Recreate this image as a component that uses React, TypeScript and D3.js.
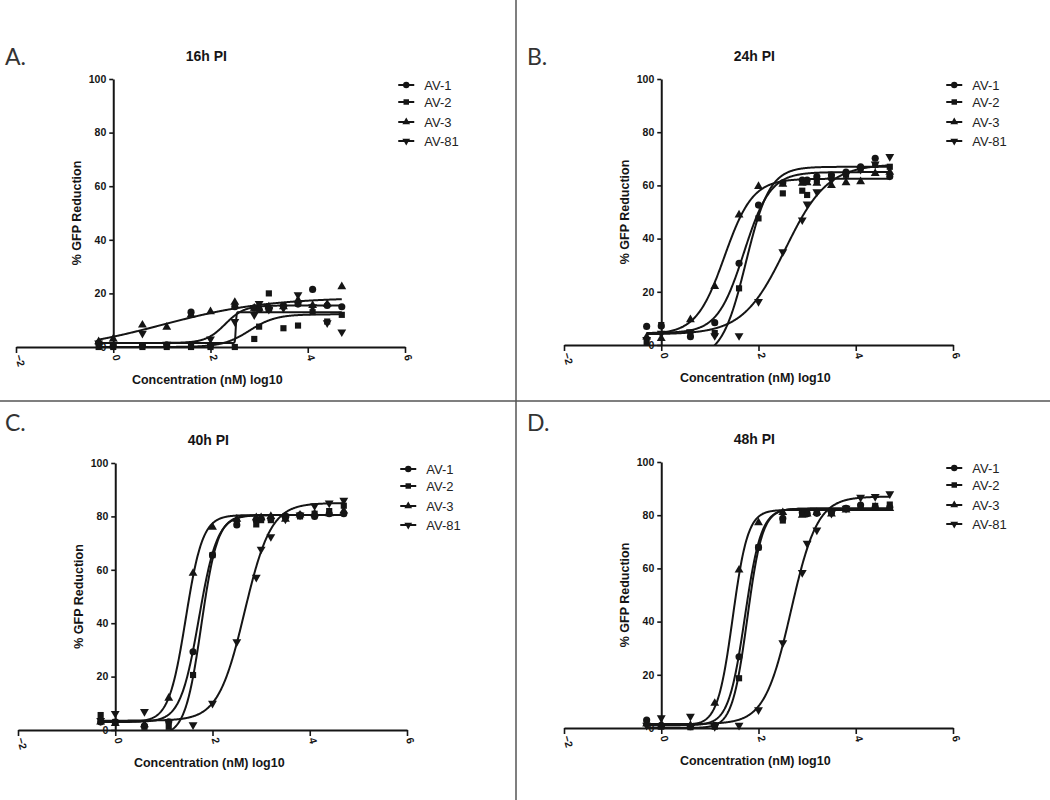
import { useEffect, useRef } from 'react';
import * as d3 from 'd3';

// ---- data ----
const seriesNames = ['AV-1', 'AV-2', 'AV-3', 'AV-81'];
const concLog10 = [-0.3, 0, 0.6, 1.1, 1.6, 2.0, 2.5, 2.9, 3.0, 3.2, 3.5, 3.8, 4.1, 4.4, 4.7];
const xTicks = [-2, 0, 2, 4, 6];
const yTicks = [0, 20, 40, 60, 80, 100];
const panelLetters = ['A.', 'B.', 'C.', 'D.'];
const panelTitles = ['16h PI', '24h PI', '40h PI', '48h PI'];

// % GFP reduction, one row per series (AV-1, AV-2, AV-3, AV-81)
const gfp16h = [
  [1.5, 0.5, 0.5, 0.8, 13, 0.5, 15, 14.5, 14, 14, 15.5, 16, 21.5, 15.5, 15],
  [0, 0, 0, 0, 0, 0, 0, 3, 7.6, 20, 7, 8, 13, 9.5, 12],
  [2, 3, 8.2, 7.4, 12, 13.2, 16.7, 14.5, 14.5, 15, 15, 17.5, 15.5, 16, 22.5],
  [1.5, 1, 5.1, 1, 1, 3, 9.5, 12, 16.2, 14, 14.5, 19.5, 15, 9, 5.6],
];
const gfp24h = [
  [7, 7.1, 3.1, 8.4, 30.7, 52.6, 61, 62, 62, 63.3, 63.9, 65, 67, 70.2, 63.3],
  [1, 7.5, 4, 4.5, 21.3, 47.6, 57, 58, 56.4, 62, 63, 64, 66, 67.7, 67],
  [3, 2.5, 9.5, 22, 48.9, 59.6, 60.5, 60.8, 61, 60.8, 60, 61, 61.4, 64.5, 65],
  [2, 4.4, 5, 3.5, 3.5, 16.3, 35, 47, 53, 57.6, 62, 64, 66, 68, 70.8],
];
const gfp40h = [
  [3, 3, 1.5, 3.1, 29.3, 65.5, 76.8, 78.6, 79, 79, 80, 80.5, 80, 81, 81],
  [5.6, 3, 1.2, 1.2, 20.6, 65.5, 78, 77, 78.6, 78.6, 80, 80, 81, 82, 84],
  [3, 2.5, 2, 11.9, 58.7, 76, 79, 79.5, 79.5, 80, 79, 80.5, 81, 81, 82],
  [3.5, 6.2, 6.9, 3, 1.9, 10, 33, 57.2, 67.7, 72.4, 79, 80.5, 84, 85, 86],
];
const gfp48h = [
  [3, 1, 0.5, 1, 26.8, 67.9, 78.8, 81, 80.5, 80.7, 81, 82.6, 83.8, 83, 83],
  [2, 0.5, 0.3, 0.5, 18.7, 67.9, 78, 80.5, 81, 81, 81.5, 82.5, 83, 83.5, 84],
  [1.5, 1, 1, 9.3, 59.4, 77.2, 81, 80, 80.5, 81, 80.5, 82, 82.5, 83, 82.5],
  [1, 3.8, 4.4, 0.5, 1, 6.8, 32, 58.4, 69.4, 74.4, 80.7, 82.6, 86.7, 87, 88],
];

// fitted dose-response parameters [bottom, top, logEC50, hill]
const fit16h = [[1.5, 13, 2.52, 60], [0, 12.2, 2.8, 1.6], [-2, 18.5, 1.0, 0.4], [1.5, 15.5, 2.3, 2.2]];
const fit24h = [[4.5, 65, 1.7, 1.6], [-5, 67, 1.74, 1.77], [4, 62.5, 1.3, 1.5], [4, 68, 2.55, 1.0]];
const fit40h = [[3, 80.5, 1.72, 2.3], [-2, 80.5, 1.77, 2.6], [3, 80.5, 1.45, 2.5], [3.5, 85, 2.66, 1.6]];
const fit48h = [[1, 82.5, 1.72, 2.6], [0, 82.5, 1.77, 2.8], [1, 82, 1.47, 2.8], [1.5, 87, 2.67, 1.6]];

const panelValues = [gfp16h, gfp24h, gfp40h, gfp48h];
const panelFits = [fit16h, fit24h, fit40h, fit48h];

// ---- layout ----
const W = 1050;
const H = 800;
const frames = [
  { xLeft: 16, xRight: 405, yTop: 79, yBottom: 347, lx: 5, ly: 65 },
  { xLeft: 564, xRight: 953, yTop: 79, yBottom: 345, lx: 527, ly: 65 },
  { xLeft: 18, xRight: 407, yTop: 463, yBottom: 730, lx: 5, ly: 431 },
  { xLeft: 564, xRight: 953, yTop: 462, yBottom: 728, lx: 527, ly: 431 },
];
const legendOffsets = [0, 17, 37, 56];
const ink = '#151515';
const font = '"Liberation Sans", Arial, sans-serif';

const symbolTypes = [d3.symbolCircle, d3.symbolSquare, d3.symbolTriangle, d3.symbolTriangle];
const symbolSizes = [40, 38, 34, 34];
const symbolRotation = [0, 0, 0, 180];

const logistic = (p: number[], v: number) => p[0] + (p[1] - p[0]) / (1 + Math.pow(10, (p[2] - v) * p[3]));

export default function App() {
  const svgRef = useRef<SVGSVGElement>(null);

  useEffect(() => {
    if (!svgRef.current) return;
    const svg = d3.select(svgRef.current);
    svg.selectAll('*').remove();

    svg.append('rect').attr('width', W).attr('height', H).attr('fill', '#fff');

    // panel dividers
    svg.append('line').attr('x1', 516).attr('x2', 516).attr('y1', 0).attr('y2', H)
      .attr('stroke', '#555').attr('stroke-width', 1.5);
    svg.append('line').attr('x1', 0).attr('x2', W).attr('y1', 401).attr('y2', 401)
      .attr('stroke', '#555').attr('stroke-width', 1.5);

    const defs = svg.append('defs');

    frames.forEach((f, pi) => {
      const x = d3.scaleLinear().domain([-2, 6]).range([f.xLeft, f.xRight]);
      const y = d3.scaleLinear().domain([0, 100]).range([f.yBottom, f.yTop]);
      const g = svg.append('g').style('font-family', font);

      const clipId = `plot-clip-${pi}`;
      defs.append('clipPath').attr('id', clipId).append('rect')
        .attr('x', x(-2)).attr('y', y(100) - 5)
        .attr('width', x(6) - x(-2)).attr('height', y(0) - y(100) + 5);

      // panel letter
      svg.append('text').attr('x', f.lx).attr('y', f.ly)
        .style('font-family', 'Lato, "Open Sans", sans-serif').style('font-size', '23px')
        .attr('fill', '#333').text(panelLetters[pi]);

      // title
      g.append('text').attr('x', x(0) + 93).attr('y', f.yTop - 18)
        .attr('text-anchor', 'middle').style('font-size', '14px').style('font-weight', 'bold')
        .attr('fill', ink).text(panelTitles[pi]);

      // x axis
      const gx = g.append('g').attr('transform', `translate(0,${y(0)})`)
        .call(d3.axisBottom(x).tickValues(xTicks).tickSize(6).tickSizeOuter(0).tickFormat(d3.format('d')));
      gx.select('.domain').attr('stroke', ink).attr('stroke-width', 2);
      gx.selectAll('.tick line').attr('stroke', ink).attr('stroke-width', 1.6);
      gx.selectAll('.tick text')
        .attr('x', 8).attr('y', 0).attr('dy', '0.35em')
        .attr('transform', 'rotate(75)')
        .style('text-anchor', 'start').style('font-size', '10.5px').style('font-weight', 'bold')
        .style('font-family', font).attr('fill', ink);

      // y axis
      const gy = g.append('g').attr('transform', `translate(${x(0)},0)`)
        .call(d3.axisLeft(y).tickValues(yTicks).tickSize(4).tickSizeOuter(0).tickPadding(3));
      gy.select('.domain').attr('stroke', ink).attr('stroke-width', 2);
      gy.selectAll('.tick line').attr('stroke', ink).attr('stroke-width', 1.6);
      gy.selectAll('.tick text')
        .style('font-size', '10.5px').style('font-weight', 'bold').style('font-family', font).attr('fill', ink);

      // axis titles
      g.append('text').attr('x', x(0) + 94).attr('y', y(0) + 37)
        .attr('text-anchor', 'middle').style('font-size', '12.5px').style('font-weight', 'bold')
        .attr('fill', ink).text('Concentration (nM) log10');
      g.append('text')
        .attr('transform', `translate(${x(0) - 36},${(y(0) + y(100)) / 2}) rotate(-90)`)
        .attr('text-anchor', 'middle').attr('dominant-baseline', 'central')
        .style('font-size', '12.5px').style('font-weight', 'bold')
        .attr('fill', ink).text('% GFP Reduction');

      // fitted curves
      const curveX = d3.range(0, 501).map(i => concLog10[0] + (i / 500) * (concLog10[concLog10.length - 1] - concLog10[0]));
      const line = d3.line<[number, number]>().x(d => x(d[0])).y(d => y(d[1]));
      panelFits[pi].forEach(p => {
        g.append('path')
          .attr('d', line(curveX.map(v => [v, logistic(p, v)] as [number, number])))
          .attr('clip-path', `url(#${clipId})`)
          .attr('fill', 'none').attr('stroke', ink).attr('stroke-width', 2);
      });

      // data points
      panelValues[pi].forEach((vals, si) => {
        const sym = d3.symbol().type(symbolTypes[si]).size(symbolSizes[si]);
        g.append('g').selectAll('path')
          .data(vals)
          .enter().append('path')
          .attr('d', sym)
          .attr('transform', (d, i) => `translate(${x(concLog10[i])},${y(d)}) rotate(${symbolRotation[si]})`)
          .attr('fill', ink);
      });

      // legend
      const lg = g.append('g').attr('transform', `translate(${x(0) + 293},${f.yTop + 6})`);
      seriesNames.forEach((name, si) => {
        const row = lg.append('g').attr('transform', `translate(0,${legendOffsets[si]})`);
        row.append('line').attr('x1', -8).attr('x2', 8).attr('stroke', ink).attr('stroke-width', 2);
        row.append('path')
          .attr('d', d3.symbol().type(symbolTypes[si]).size(symbolSizes[si] - 8)())
          .attr('transform', `rotate(${symbolRotation[si]})`)
          .attr('fill', ink);
        row.append('text').attr('x', 18).attr('dominant-baseline', 'central')
          .style('font-size', '13px').attr('fill', '#222').text(name);
      });
    });
  }, []);

  return (
    <svg
      ref={svgRef}
      width={W}
      height={H}
      style={{ position: 'absolute', left: 0, top: 0, display: 'block' }}
    />
  );
}
